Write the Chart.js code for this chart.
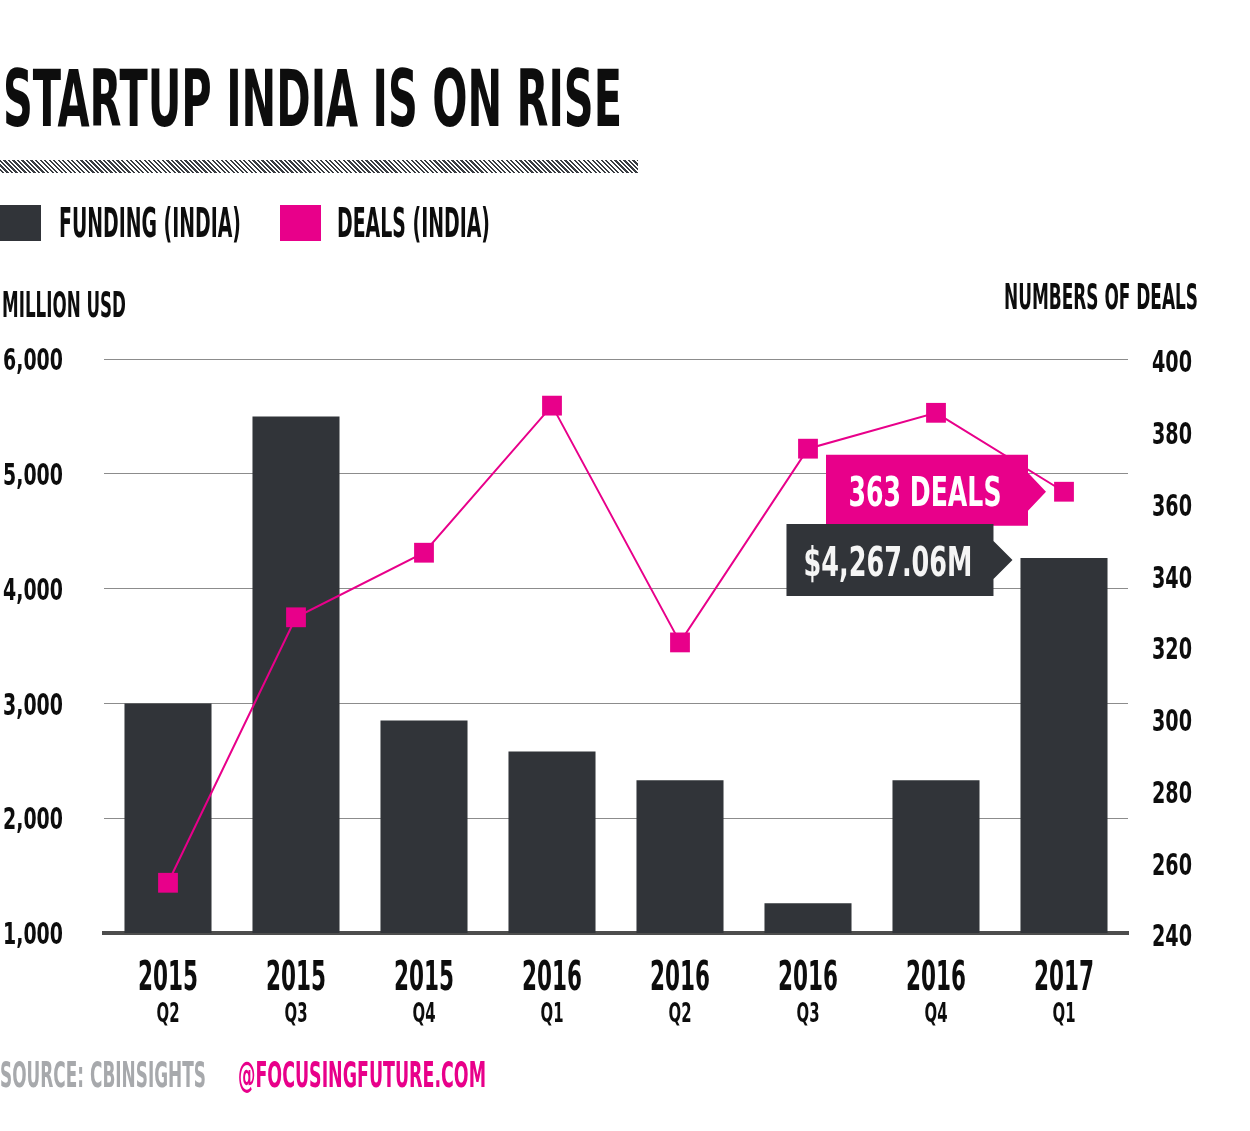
<!DOCTYPE html>
<html>
<head>
<meta charset="utf-8">
<script src="https://cdn.jsdelivr.net/npm/chart.js@4.4.1/dist/chart.umd.min.js"></script>
<style>
  html, body { margin: 0; padding: 0; background: #fff; }
  #wrap { position: relative; width: 1250px; height: 1131px; overflow: hidden; }
  canvas { position: absolute; left: 0; top: 0; }
  .t { position: absolute; white-space: nowrap; line-height: 1; transform-origin: 0 0;
       font-family: 'Liberation Sans Narrow', 'DejaVu Sans Condensed', sans-serif; font-weight: bold; color: #0d0d0d; }
  .sq { position: absolute; width: 41px; height: 36px; }
  #hatch { position: absolute; left: 0; top: 160px; width: 638px; height: 13px;
           background: repeating-linear-gradient(45deg, #fff 0 1.6px, #3a3d42 1.6px 3.2px); }
</style>
</head>
<body>
<div id="wrap">
  <canvas id="chart" width="1250" height="1131"></canvas>
  <div class="t" style="left:3px;top:60px;font-size:79px" data-w="619">STARTUP INDIA IS ON RISE</div>
  <div id="hatch"></div>
  <div class="sq" style="left:0;top:205px;background:#313439"></div>
  <div class="t" style="left:59px;top:203px;font-size:40px" data-w="182">FUNDING (INDIA)</div>
  <div class="sq" style="left:280px;top:205px;background:#e8008a"></div>
  <div class="t" style="left:337px;top:203px;font-size:40px" data-w="153">DEALS (INDIA)</div>
  <div class="t" style="left:2px;top:288px;font-size:35px" data-w="124">MILLION USD</div>
  <div class="t" style="left:1004px;top:280px;font-size:35px" data-w="194">NUMBERS OF DEALS</div>
  <div class="t" style="left:0;top:1058px;font-size:35px;color:#a7a9ac" data-w="206">SOURCE: CBINSIGHTS</div>
  <div class="t" style="left:238px;top:1058px;font-size:35px;color:#e8008a" data-w="248">@FOCUSINGFUTURE.COM</div>
</div>
<script>
const years = ['2015', '2015', '2015', '2016', '2016', '2016', '2016', '2017'];
const quarters = ['Q2', 'Q3', 'Q4', 'Q1', 'Q2', 'Q3', 'Q4', 'Q1'];
const funding = [3000, 5500, 2850, 2580, 2330, 1260, 2330, 4267.06];
const deals = [254, 328, 346, 387, 321, 375, 385, 363];

const FAMILY = "'DejaVu Sans Condensed', 'DejaVu Sans', sans-serif";
const DARK = '#313439';
const PINK = '#e8008a';
const INK = '#0d0d0d';

function fitHtml() {
    document.querySelectorAll('.t[data-w]').forEach(el => {
        el.style.transform = 'none';
        const w = el.getBoundingClientRect().width;
        el.style.transform = `scaleX(${el.dataset.w / w})`;
    });
}

// condensed text: squeeze so that `sample` would be `sampleW` px wide, caps centred on cy
function narrowText(ctx, text, x, cy, size, sample, sampleW, align, color) {
    ctx.save();
    ctx.font = `bold ${size}px ${FAMILY}`;
    const sx = sampleW / ctx.measureText(sample).width;
    ctx.translate(x, cy + size * 0.364);
    ctx.scale(sx, 1);
    ctx.textAlign = align;
    ctx.textBaseline = 'alphabetic';
    ctx.fillStyle = color;
    ctx.fillText(text, 0, 0);
    ctx.restore();
}

function tag(ctx, tipX, tipY, boxW, up, down, arrow, color) {
    const right = tipX - arrow;
    ctx.save();
    ctx.fillStyle = color;
    ctx.beginPath();
    ctx.moveTo(right - boxW, tipY - up);
    ctx.lineTo(right, tipY - up);
    ctx.lineTo(right, tipY - 19);
    ctx.lineTo(tipX, tipY);
    ctx.lineTo(right, tipY + 19);
    ctx.lineTo(right, tipY + down);
    ctx.lineTo(right - boxW, tipY + down);
    ctx.closePath();
    ctx.fill();
    ctx.restore();
    return right - boxW / 2;
}

// callout tags for the latest quarter
const calloutPlugin = {
    id: 'callouts',
    afterDatasetsDraw(chart) {
        const ctx = chart.ctx;
        const last = funding.length - 1;
        const pt = chart.getDatasetMeta(1).data[last];
        const bar = chart.getDatasetMeta(0).data[last];

        const pinkX = tag(ctx, pt.x - 18, pt.y, 202, 37, 34, 18, PINK);
        const dealText = `${deals[last]} DEALS`;
        narrowText(ctx, dealText, pinkX - 2, pt.y, 40, dealText, 153, 'center', '#fff');

        const darkY = bar.y + 2;
        const darkX = tag(ctx, bar.x - bar.width / 2 - 8, darkY, 207, 36, 36, 19, DARK);
        const money = '$' + funding[last].toLocaleString('en-US', { minimumFractionDigits: 2 }) + 'M';
        narrowText(ctx, money, darkX - 2, darkY + 1, 41, money, 169, 'center', '#f5f5f5');
    }
};

// axis labels drawn condensed, placed by the chart's scales
const tickLabelPlugin = {
    id: 'tickLabels',
    afterDraw(chart) {
        const ctx = chart.ctx;
        const { x, y, y2 } = chart.scales;
        y.ticks.forEach(t => {
            narrowText(ctx, t.value.toLocaleString('en-US'), 3, y.getPixelForValue(t.value), 31, '6,000', 60, 'left', INK);
        });
        y2.ticks.forEach(t => {
            narrowText(ctx, String(t.value), 1152, y2.getPixelForValue(t.value) + 2, 31, '400', 40, 'left', INK);
        });
        years.forEach((yr, i) => {
            const px = x.getPixelForValue(i);
            narrowText(ctx, yr, px, 975, 40, '2015', 60, 'center', INK);
            narrowText(ctx, quarters[i], px, 1012, 27, 'Q2', 23, 'center', INK);
        });
    }
};

const chart = new Chart(document.getElementById('chart'), {
    data: {
        labels: years.map((yr, i) => yr + ' ' + quarters[i]),
        datasets: [
            {
                type: 'bar',
                label: 'FUNDING (INDIA)',
                data: funding,
                backgroundColor: DARK,
                categoryPercentage: 1,
                barPercentage: 0.68,
                yAxisID: 'y',
                order: 1,
            },
            {
                type: 'line',
                label: 'DEALS (INDIA)',
                data: deals,
                borderColor: PINK,
                borderWidth: 2,
                pointStyle: 'rect',
                pointRadius: 14,
                pointBorderWidth: 0,
                pointBackgroundColor: PINK,
                tension: 0,
                yAxisID: 'y2',
                order: 0,
            },
        ],
    },
    options: {
        responsive: false,
        animation: false,
        devicePixelRatio: 1,
        events: [],
        layout: { padding: { left: 3, right: 0, top: 359, bottom: 94 } },
        plugins: { legend: { display: false }, tooltip: { enabled: false } },
        scales: {
            x: {
                position: 'bottom',
                grid: { display: false },
                border: { display: true, color: '#4d4d4d', width: 4 },
                ticks: { display: false },
                afterFit: s => { s.height = 104; },
            },
            y: {
                position: 'left',
                min: 1000,
                max: 6000,
                grid: { color: '#8c8c8c', lineWidth: 1, drawTicks: false },
                border: { display: false },
                ticks: { stepSize: 1000, display: false },
                afterFit: s => { s.width = 101; },
            },
            y2: {
                position: 'right',
                min: 240,
                max: 400,
                grid: { display: false, drawTicks: false },
                border: { display: false },
                ticks: { stepSize: 20, display: false },
                afterFit: s => { s.width = 122; },
            },
        },
    },
    plugins: [calloutPlugin, tickLabelPlugin],
});

fitHtml();
document.fonts.ready.then(fitHtml);
</script>
</body>
</html>
